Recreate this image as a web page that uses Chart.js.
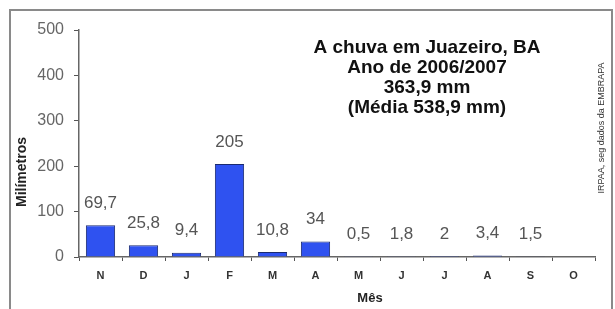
<!DOCTYPE html>
<html>
<head>
<meta charset="utf-8">
<script src="https://cdn.jsdelivr.net/npm/chart.js@4"></script>
<style>
  html, body { margin: 0; padding: 0; background: #fff; }
  #wrap { width: 615px; height: 309px; position: relative; }
</style>
</head>
<body>
<div id="wrap"><canvas id="chuva" width="615" height="309"></canvas></div>
<script>
// monthly rain, Nov 2006 - Oct 2007
const months = ['N', 'D', 'J', 'F', 'M', 'A', 'M', 'J', 'J', 'A', 'S', 'O'];
const rainMm = [69.7, 25.8, 9.4, 205, 10.8, 34, 0.5, 1.8, 2, 3.4, 1.5, 0];
const valueLabels = ['69,7', '25,8', '9,4', '205', '10,8', '34', '0,5', '1,8', '2', '3,4', '1,5', ''];
const yTicks = [0, 100, 200, 300, 400, 500];
const titleLines = ['A chuva em Juazeiro, BA', 'Ano de 2006/2007', '363,9 mm', '(Média 538,9 mm)'];
const sourceText = 'IRPAA, seg dados da EMBRAPA';
const xTitle = 'Mês';
const yTitle = 'Milímetros';

const FONT = '"Liberation Sans", Arial, sans-serif';

const extras = {
  id: 'extras',
  beforeDraw(chart) {
    const c = chart.ctx;
    c.save();
    c.fillStyle = '#fff';
    c.fillRect(0, 0, chart.width, chart.height);
    c.strokeStyle = '#8a8a8a';
    c.lineWidth = 2;
    c.strokeRect(10, 10, 602, 320);
    c.restore();
  },
  afterDatasetsDraw(chart) {
    const c = chart.ctx;
    const meta = chart.getDatasetMeta(0);
    c.save();
    c.fillStyle = '#555';
    c.font = '17px ' + FONT;
    c.textAlign = 'center';
    c.textBaseline = 'middle';
    meta.data.forEach((bar, i) => {
      c.fillText(valueLabels[i], bar.x, bar.y - 22);
    });

    c.fillStyle = '#111';
    c.font = 'bold 19px ' + FONT;
    titleLines.forEach((t, i) => c.fillText(t, 427, 48 + i * 20));

    // axis titles
    c.fillStyle = '#222';
    c.font = 'bold 13px ' + FONT;
    c.fillText(xTitle, 370, 298);

    c.save();
    c.translate(22, 172);
    c.rotate(-Math.PI / 2);
    c.font = 'bold 14px ' + FONT;
    c.fillText(yTitle, 0, 0);
    c.restore();

    c.font = '9px ' + FONT;
    c.fillStyle = '#333';
    c.translate(602, 128);
    c.rotate(-Math.PI / 2);
    c.fillText(sourceText, 0, 0);
    c.restore();
  }
};

new Chart(document.getElementById('chuva'), {
  type: 'bar',
  data: {
    labels: months,
    datasets: [{
      data: rainMm,
      backgroundColor: '#2f52f0',
      borderColor: '#1a2a70',
      borderWidth: 1,
      categoryPercentage: 1,
      barPercentage: 0.68
    }]
  },
  options: {
    responsive: false,
    animation: false,
    layout: { padding: { left: 8, right: 20, top: 30, bottom: 4 } },
    plugins: { legend: { display: false }, tooltip: { enabled: false } },
    scales: {
      x: {
        offset: true,
        afterFit(s) { s.height = 48; },
        grid: { offset: true, drawOnChartArea: false, tickLength: 4, color: '#555' },
        border: { color: '#666', width: 1.5 },
        ticks: { color: '#333', padding: 8, font: { family: FONT, size: 11, weight: 'bold' } }
      },
      y: {
        min: 0,
        max: 500,
        afterFit(s) { s.width = 71; },
        afterBuildTicks(s) { s.ticks = yTicks.map(v => ({ value: v })); },
        grid: { drawOnChartArea: false, tickLength: 5, color: '#555' },
        border: { color: '#666', width: 1.5 },
        ticks: { color: '#666', padding: 10, font: { family: FONT, size: 16 } }
      }
    }
  },
  plugins: [extras]
});
</script>
</body>
</html>
